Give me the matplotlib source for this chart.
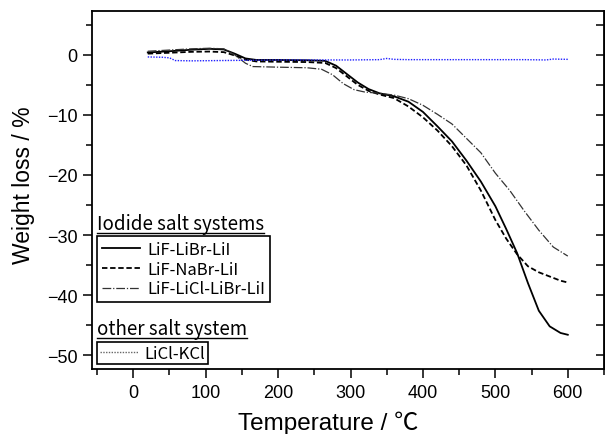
import numpy as np
import matplotlib
matplotlib.use("Agg")
import matplotlib.pyplot as plt
from matplotlib.lines import Line2D
from matplotlib.ticker import MultipleLocator

plt.rcParams['font.family'] = ['Liberation Sans', 'Noto Sans CJK JP', 'DejaVu Sans']
gothic = ['Noto Sans CJK JP', 'DejaVu Sans']

# LiF-LiBr-LiI (solid)
t_libr = [20, 50, 80, 105, 125, 140, 155, 170, 200, 240, 265, 280, 295, 310, 325, 340,
          360, 380, 400, 420, 440, 460, 480, 500, 515, 530, 545, 560, 575, 590, 600]
w_libr = [0.4, 0.6, 0.85, 1.0, 0.9, 0.2, -0.6, -0.85, -0.85, -0.9, -1.0, -1.8, -3.2, -4.6, -5.7, -6.4,
          -6.9, -7.8, -9.5, -11.9, -14.4, -17.6, -21.1, -25.2, -29.0, -33.0, -38.0, -42.6, -45.2, -46.3, -46.6]

# LiF-NaBr-LiI (dashed)
t_nabr = [20, 50, 80, 105, 125, 140, 155, 170, 200, 240, 265, 280, 295, 310, 325, 340,
          360, 380, 400, 420, 440, 460, 480, 500, 515, 530, 545, 560, 575, 590, 600]
w_nabr = [0.2, 0.35, 0.5, 0.55, 0.45, -0.1, -0.8, -1.1, -1.15, -1.2, -1.35, -2.2, -3.6, -5.0, -6.0, -6.6,
          -7.2, -8.6, -10.4, -12.6, -15.2, -18.4, -22.6, -27.5, -30.6, -33.2, -35.2, -36.2, -36.9, -37.6, -37.9]

# LiF-LiCl-LiBr-LiI (dash-dot)
t_licl = [20, 50, 80, 105, 125, 140, 155, 165, 200, 240, 260, 275, 290, 305, 320, 340,
          360, 380, 400, 420, 440, 460, 480, 500, 520, 540, 560, 580, 600]
w_licl = [0.6, 0.8, 1.0, 1.1, 1.0, 0.0, -1.4, -1.95, -2.05, -2.15, -2.4, -3.3, -4.8, -5.8, -6.2, -6.4,
          -6.7, -7.3, -8.4, -9.9, -11.5, -13.9, -16.3, -19.7, -22.6, -26.0, -29.2, -32.0, -33.5]

# LiCl-KCl (blue dotted)
t_kcl = [20, 40, 50, 58, 80, 120, 160, 200, 250, 300, 340, 350, 360, 380, 420, 460, 500, 540, 570, 580, 600]
w_kcl = [-0.35, -0.4, -0.5, -0.95, -1.0, -0.95, -0.9, -0.85, -0.85, -0.85, -0.8, -0.6, -0.75, -0.8,
         -0.8, -0.8, -0.8, -0.8, -0.85, -0.7, -0.75]

iodide_labels = ["LiF-LiBr-LiI", "LiF-NaBr-LiI", "LiF-LiCl-LiBr-LiI"]
other_label = "LiCl-KCl"

fig = plt.figure(figsize=(6.05, 4.35), dpi=100)
ax = fig.add_axes([92 / 605, 65 / 435, 512 / 605, 358 / 435])

l1, = ax.plot(t_libr, w_libr, color="black", lw=1.3, ls="-")
l2, = ax.plot(t_nabr, w_nabr, color="black", lw=1.3, ls=(0, (3, 1.5)))
l3, = ax.plot(t_licl, w_licl, color="#333333", lw=0.9, ls=(0, (7, 1.5, 1, 1.5)))
ax.plot(t_kcl, w_kcl, color="#2020ff", lw=1.0, ls=(0, (1, 1)))

ax.set_xlim(-57, 650)
ax.set_ylim(-52.3, 7.3)
ax.xaxis.set_major_locator(MultipleLocator(100))
ax.xaxis.set_minor_locator(MultipleLocator(50))
ax.yaxis.set_major_locator(MultipleLocator(10))
ax.yaxis.set_minor_locator(MultipleLocator(5))
ax.tick_params(which='major', direction='out', length=6.5, width=1.1, labelsize=13, pad=4)
ax.tick_params(which='minor', direction='out', length=4, width=1.1)
for s in ax.spines.values():
    s.set_linewidth(1.3)

sec = ax.secondary_yaxis('right')
sec.yaxis.set_major_locator(MultipleLocator(10))
sec.yaxis.set_minor_locator(MultipleLocator(5))
sec.tick_params(which='major', direction='in', length=6, width=1.1, labelright=False)
sec.tick_params(which='minor', direction='in', length=6, width=1.1)

ax.set_xlabel("Temperature / ℃", fontsize=17.5)
ax.set_ylabel("Weight loss / %", fontsize=16.5)
ax.xaxis.set_label_coords(0.461, -0.117)
ax.yaxis.set_label_coords(-0.112, 0.517)

leg1 = ax.legend([l1, l2, l3], iodide_labels, loc="upper left", bbox_to_anchor=(0.01, 0.372),
                 borderaxespad=0, prop={'family': gothic, 'size': 12}, handlelength=2.3,
                 handletextpad=0.4, labelspacing=0.17, borderpad=0.3, fancybox=False,
                 framealpha=1, edgecolor="black")
leg1.get_frame().set_linewidth(1.2)
ax.add_artist(leg1)

kcl_handle = Line2D([], [], color="#666666", lw=1.0, ls=(0, (1, 1)))
leg2 = ax.legend([kcl_handle], [other_label], loc="upper left", bbox_to_anchor=(0.01, 0.075),
                 borderaxespad=0, prop={'family': gothic, 'size': 12}, handlelength=2.3,
                 handletextpad=0.4, borderpad=0.15, fancybox=False, framealpha=1,
                 edgecolor="black")
leg2.get_frame().set_linewidth(1.2)

t1 = ax.text(0.01, 0.39, "Iodide salt systems", transform=ax.transAxes, fontsize=13.5,
             family=gothic, va="baseline")
t2 = ax.text(0.01, 0.097, "other salt system", transform=ax.transAxes, fontsize=13.5,
             family=gothic, va="baseline")

# underline the two group titles
fig.canvas.draw()
inv = fig.transFigure.inverted()
for t in (t1, t2):
    bb = t.get_window_extent()
    (x0, y0), (x1, _) = inv.transform([(bb.x0, bb.y0 + 1), (bb.x1, bb.y0)])
    fig.add_artist(Line2D([x0, x1], [y0, y0], color="black", lw=1.0, transform=fig.transFigure))

fig.savefig("out.png", dpi=100)
